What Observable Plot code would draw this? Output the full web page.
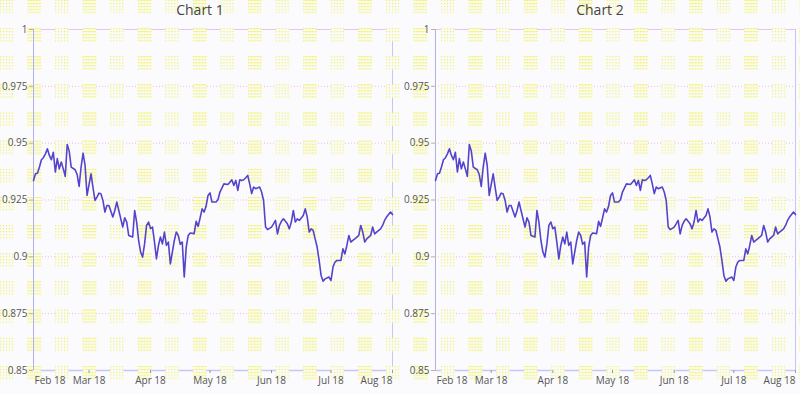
<!DOCTYPE html>
<html><head><meta charset="utf-8">
<script src="https://cdn.jsdelivr.net/npm/d3@7"></script>
<script src="https://cdn.jsdelivr.net/npm/@observablehq/plot@0.6"></script>
<style>
html,body{margin:0;padding:0;width:800px;height:394px;overflow:hidden;background:#fbfbfe;}
#wrap{position:relative;width:800px;height:394px;}
#bg{position:absolute;left:0;top:0;}
.chart{position:absolute;top:0;width:400px;height:394px;}
.title{height:22px;line-height:24px;text-align:center;font:14px "Open Sans",sans-serif;color:#444;position:relative;}
.chart svg{display:block;}
</style></head><body>
<div id="wrap"><svg id="bg" width="800" height="394"></svg>
<div class="chart" id="c1" style="left:0"></div>
<div class="chart" id="c2" style="left:400px"></div></div>
<script>
const chartTitles = ["Chart 1", "Chart 2"];
const startDate = "2018-02-01";
const endDate = "2018-08-01";
const dayOffsets = [0,1,2,3,4,5,6,7,8,9,10,11,12,13,14,15,16,17,18,19,21,22,23,24,25,26,27,29,30,31,32,33,34,35,36,37,38,40,41,42,43,45,46,47,48,50,51,52,53,54,55,56,57,58,59,60,61,62,63,64,65,66,67,68,69,71,72,73,74,75,76,77,78,79,81,82,83,84,85,86,87,88,89,90,92,93,94,96,98,99,100,101,102,103,104,105,106,107,108,109,110,111,112,114,115,116,117,118,120,121,122,123,124,125,126,128,129,130,131,132,133,134,136,137,138,139,140,141,142,143,144,145,146,147,149,150,151,152,153,154,155,156,157,158,159,160,161,162,164,165,166,167,168,169,170,171,172,173,175,176,177,178,180,181];
const values = [0.9336,0.9365,0.9368,0.9395,0.9427,0.9436,0.9453,0.9475,0.9446,0.9427,0.9460,0.9373,0.9432,0.9387,0.9417,0.9387,0.9354,0.9494,0.9465,0.9395,0.9383,0.9362,0.9310,0.9395,0.9456,0.9402,0.9270,0.9365,0.9304,0.9248,0.9263,0.9280,0.9277,0.9248,0.9197,0.9226,0.9226,0.9175,0.9204,0.9241,0.9204,0.9131,0.9172,0.9153,0.9094,0.9087,0.9204,0.9153,0.9072,0.9021,0.8999,0.9057,0.9138,0.9153,0.9124,0.9131,0.9065,0.8991,0.9050,0.9087,0.9057,0.9109,0.9050,0.9065,0.8969,0.9072,0.9109,0.9094,0.9055,0.9065,0.8911,0.9043,0.9094,0.9105,0.9102,0.9156,0.9134,0.9171,0.9211,0.9197,0.9222,0.9270,0.9281,0.9241,0.9241,0.9251,0.9285,0.9321,0.9318,0.9328,0.9339,0.9314,0.9336,0.9292,0.9339,0.9336,0.9339,0.9348,0.9358,0.9321,0.9278,0.9307,0.9300,0.9307,0.9285,0.9248,0.9131,0.9120,0.9131,0.9145,0.9160,0.9101,0.9138,0.9156,0.9167,0.9145,0.9123,0.9153,0.9204,0.9153,0.9167,0.9160,0.9182,0.9211,0.9175,0.9109,0.9123,0.9116,0.9079,0.9043,0.8984,0.8918,0.8893,0.8903,0.8911,0.8896,0.8955,0.8977,0.8984,0.8984,0.8984,0.9035,0.9013,0.9050,0.9094,0.9065,0.9072,0.9079,0.9094,0.9138,0.9109,0.9065,0.9079,0.9087,0.9094,0.9131,0.9101,0.9109,0.9123,0.9138,0.9160,0.9175,0.9197,0.9186];
const yTicks = [0.85, 0.875, 0.9, 0.925, 0.95, 0.975, 1];
const monthTicks = ["2018-02-01","2018-03-01","2018-04-01","2018-05-01","2018-06-01","2018-07-01","2018-08-01"];

const BG = "#fbfbfe";
const PX = 27.57, PY = 28.15, PS = 13.3, TITLE_H = 22;

const d0 = new Date(startDate), d1 = new Date(endDate);
const data = dayOffsets.map((d, i) => ({date: d3.utcDay.offset(d0, d), value: values[i]}));
const months = monthTicks.map(s => new Date(s));
const fmtX = d3.utcFormat("%b %y");
const fmtY = d => String(+d.toFixed(3));

function addPattern(sel, id, ox, oy) {
  const defs = sel.append("defs");
  const mk = (pid, w, color) => {
    const p = defs.append("pattern").attr("id", pid).attr("patternUnits", "userSpaceOnUse")
      .attr("width", 3).attr("height", 3);
    p.append("rect").attr("width", 3).attr("height", 3).attr("fill", BG);
    p.append("rect").attr("width", w).attr("height", 1).attr("fill", color);
  };
  mk(id + "-dd", 2, "#f0f04a");
  mk(id + "-ds", 1, "#eeee4a");
  const t = defs.append("pattern").attr("id", id + "-t").attr("patternUnits", "userSpaceOnUse")
    .attr("x", -ox).attr("y", -oy).attr("width", 2 * PX).attr("height", PY);
  t.append("rect").attr("width", PS).attr("height", PS).attr("fill", `url(#${id}-ds)`);
  t.append("rect").attr("x", PX).attr("width", PS).attr("height", PS).attr("fill", `url(#${id}-dd)`);
  return `url(#${id}-t)`;
}

// page background patches
{
  const s = d3.select("#bg");
  const f = addPattern(s, "pg", 0, 0);
  s.append("rect").attr("width", 800).attr("height", 394).attr("fill", f);
}

function overlay(id, ox, oy) {
  return (index, scales, values, dims) => {
    const g = d3.create("svg:g");
    const f = addPattern(g, id, ox, oy);
    g.append("rect").attr("width", dims.width).attr("height", dims.height).attr("fill", f);
    return g.node();
  };
}

function drawChart(el, title, ml, mr, ox, id) {
  const t = document.createElement("div");
  t.className = "title";
  t.textContent = title;
  el.appendChild(t);
  const mid = months.slice(1, -1);
  const plot = Plot.plot({
    width: 400, height: 394 - TITLE_H,
    marginLeft: ml, marginRight: mr, marginTop: 7, marginBottom: 24,
    style: {background: "transparent", fontFamily: "'Open Sans', sans-serif", fontSize: "10px", color: "#555", overflow: "visible"},
    x: {type: "utc", domain: [d0, d1]},
    y: {domain: [0.85, 1]},
    marks: [
      Plot.ruleY(yTicks.filter(v => v > 0.85 && v < 1), {stroke: "#eeb8ee", strokeDasharray: "1,2"}),
      Plot.ruleY([1], {stroke: "#e4c4f2"}),
      Plot.ruleY([0.85], {stroke: "#c6c6f6", strokeWidth: 1.5}),
      Plot.ruleX([d1], {stroke: "#c6c6f6"}),
      overlay(id, ox, TITLE_H),
      Plot.ruleX([d0], {stroke: "#b0b0ee"}),
      Plot.axisY({ticks: yTicks, tickFormat: fmtY, tickSize: 4, tickPadding: 2, stroke: "#c8b070", fill: "#555", label: null}),
      Plot.axisX({ticks: mid, tickFormat: fmtX, tickSize: 3, tickPadding: 3, stroke: "#999", fill: "#555", label: null}),
      Plot.axisX({ticks: [d0], tickFormat: fmtX, tickSize: 0, tickPadding: 6, textAnchor: "start", dx: 1, fill: "#555", label: null}),
      Plot.axisX({ticks: [d1], tickFormat: fmtX, tickSize: 3, tickPadding: 3, textAnchor: "end", stroke: "#999", fill: "#555", label: null}),
      Plot.lineY(data, {x: "date", y: "value", stroke: "#5444cc", strokeWidth: 1.6})
    ]
  });
  el.appendChild(plot);
}

drawChart(document.getElementById("c1"), chartTitles[0], 33, 8, 0, "p1");
drawChart(document.getElementById("c2"), chartTitles[1], 35, 5, 400, "p2");
</script>
</body></html>
